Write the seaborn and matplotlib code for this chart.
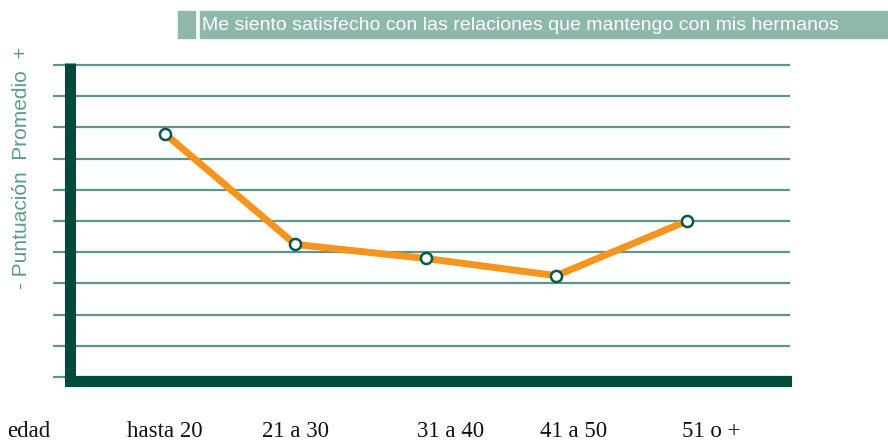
import matplotlib
matplotlib.use('Agg')
import matplotlib.pyplot as plt
import seaborn as sns
import pandas as pd
from matplotlib.patches import Rectangle

# data
edades = ["hasta 20", "21 a 30", "31 a 40", "41 a 50", "51 o +"]
puntuacion = [7.8, 4.25, 3.8, 3.25, 5.0]
# where the age labels sit (they are not exactly under the points)
label_pos = [0.0, 1.0, 2.19, 3.13, 4.19]

titulo = "Me siento satisfecho con las relaciones que mantengo con mis hermanos"
ylabel = "- Puntuación  Promedio  +"

verde_osc = "#004b3b"
verde_grid = "#5e958b"
verde_claro = "#8fb8ad"
naranja = "#f7941d"

df = pd.DataFrame({"x": range(len(edades)), "y": puntuacion})

sns.set_style("white")
plt.rcParams['font.family'] = ['Liberation Sans', 'DejaVu Sans']

fig = plt.figure(figsize=(8.88, 4.41), dpi=100)
ax = fig.add_axes([69.5/888, (441-380.5)/441, (790-69.5)/888, (380.5-63.4)/441])

ax.set_ylim(-0.11, 10.05)
ax.set_xlim(-0.73, 4.79)
ax.set_yticks(range(0, 11))
ax.set_yticklabels([])
ax.grid(axis='y', color=verde_grid, linewidth=1.6)
ax.grid(axis='x', visible=False)
ax.set_axisbelow(True)

sns.lineplot(data=df, x="x", y="y", ax=ax, color=naranja, linewidth=5,
             marker='o', markersize=8, markerfacecolor='white',
             markeredgecolor="#00594a", markeredgewidth=1.8, zorder=5)

for s in ['top', 'right']:
    ax.spines[s].set_visible(False)
for s in ['left', 'bottom']:
    ax.spines[s].set_color(verde_osc)
    ax.spines[s].set_linewidth(8)
ax.spines['left'].set_capstyle('butt')
ax.spines['bottom'].set_capstyle('projecting')
ax.spines['bottom'].set_bounds(-0.73, 4.76)
ax.spines['left'].set_zorder(6)

ax.tick_params(axis='y', direction='out', length=12.5, width=1.6, color=verde_grid, left=True)
ax.tick_params(axis='x', bottom=False)
ax.set_xticks(label_pos)
ax.set_xticklabels(edades, family=['Liberation Serif'], fontsize=16.5, color='#111111')
ax.tick_params(axis='x', pad=25.5)
ax.set_xlabel("")
ax.set_ylabel("")

fig.text(29/888, 1-437/441, "edad", family=['Liberation Serif'], fontsize=16.5,
         color='#111111', ha='center', va='baseline')
fig.text(22/888, 1-168/441, ylabel, rotation=90, fontsize=15, color="#5e9a8c",
         ha='center', va='center')

# title band
fig.patches.append(Rectangle((178/888, 1-38/441), 17/888, 27/441,
                             transform=fig.transFigure, color=verde_claro))
fig.patches.append(Rectangle((200/888, 1-38/441), 688/888, 27/441,
                             transform=fig.transFigure, color=verde_claro))
fig.text(202/888, 1-25/441, titulo, fontsize=14, color='white', ha='left', va='center')

fig.savefig("out.png", dpi=100)
